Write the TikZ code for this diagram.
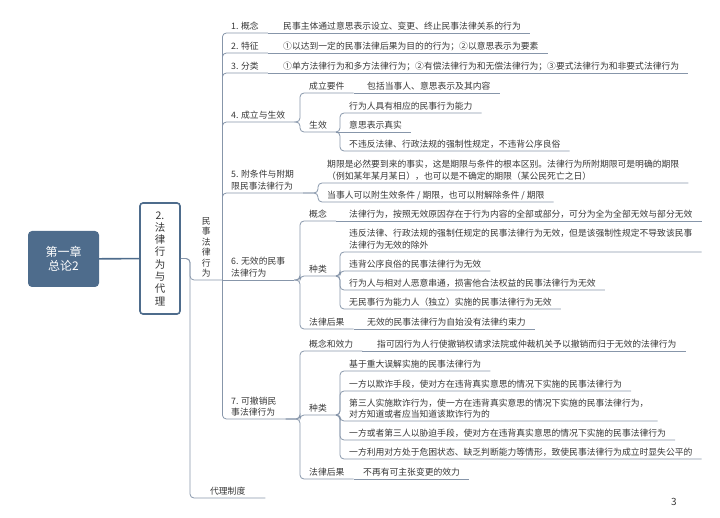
\documentclass[tikz,border=0pt]{standalone}
\usepackage{fontspec}
\setmainfont{Noto Sans CJK SC}
\usepackage{tikz}

\definecolor{rootblue}{RGB}{78,108,140}
\definecolor{linegray}{RGB}{135,150,170}
\definecolor{txtgray}{RGB}{55,55,55}

\tikzset{
  rootbox/.style={fill=rootblue,rounded corners=4pt,minimum width=71pt,minimum height=56pt,text=white,align=center,font=\fontsize{12}{14}\selectfont},
  chapbox/.style={draw=rootblue,line width=1.6pt,fill=white,rounded corners=3pt,minimum width=40pt,minimum height=111pt,text=txtgray,align=center,font=\fontsize{10.5}{12.3}\selectfont},
  topic/.style={anchor=south west,inner xsep=9pt,inner ysep=2pt,text depth=1.3pt,text=txtgray,align=left,font=\fontsize{8.8}{11.5}\selectfont},
  link/.style={draw=linegray,line width=0.8pt,rounded corners=4pt},
  rootlink/.style={draw=rootblue,line width=1.6pt}
}

\begin{document}
\begin{tikzpicture}[x=1pt,y=-1pt]
                \useasboundingbox (0,0) rectangle (720,518);
                % Chapter and section
                \node[rootbox](root) at (63.5,259){第一章\\总论2};
                \node[chapbox](law) at (160,258.5){2.\\法\\律\\行\\为\\与\\代\\理};
                \draw[rootlink](root)--(law);
                \node[topic,minimum width=32pt,inner xsep=0pt,align=center,font=\fontsize{8.8}{10.4}\selectfont](civil) at (190,280){民\\事\\法\\律\\行\\为};
                \node[topic,minimum width=75pt](agency) at (190,498){代理制度};
                \draw[link](law.east)-|(civil.south west)--(civil.south east);
                \draw[link](law.east)-|(agency.south west)--(agency.south east);
                % Items 1-7
                \node[topic](concept) at (222,33){1. 概念};
                \node[topic](feature) at (222,53){2. 特征};
                \node[topic](kinds) at (222,73){3. 分类};
                \node[topic](valid) at (222,122){4. 成立与生效};
                \node[topic](cond) at (222,193){5. 附条件与附期\\限民事法律行为};
                \node[topic](void) at (222,280){6. 无效的民事\\法律行为};
                \node[topic](revoc) at (222,419){7. 可撤销民\\事法律行为};
                \draw[link](civil.south east)|-(concept.south east);
                \draw[link](civil.south east)|-(feature.south east);
                \draw[link](civil.south east)|-(kinds.south east);
                \draw[link](civil.south east)|-(valid.south east);
                \draw[link](civil.south east)|-(cond.south east);
                \draw[link](civil.south east)--(void.south east);
                \draw[link](civil.south east)|-(revoc.south east);
                % 1-3
                \node[topic](conceptA) at (274,33){民事主体通过意思表示设立、变更、终止民事法律关系的行为};
                \node[topic](featureA) at (274,53){①以达到一定的民事法律后果为目的的行为；②以意思表示为要素};
                \node[topic](kindsA) at (274,73){①单方法律行为和多方法律行为；②有偿法律行为和无偿法律行为；③要式法律行为和非要式法律行为};
                \draw[link](concept.south east)--(conceptA.south east);
                \draw[link](feature.south east)--(featureA.south east);
                \draw[link](kinds.south east)--(kindsA.south east);
                % 4
                \node[topic](found) at (300,93){成立要件};
                \node[topic](foundA) at (358,93){包括当事人、意思表示及其内容};
                \node[topic](effect) at (300,132){生效};
                \node[topic](effectA) at (340,113){行为人具有相应的民事行为能力};
                \node[topic](effectB) at (340,132){意思表示真实};
                \node[topic](effectC) at (340,151){不违反法律、行政法规的强制性规定，不违背公序良俗};
                \draw[link](valid.south east)-|(found.south west)--(found.south east);
                \draw[link](valid.south east)-|(effect.south west)--(effect.south east);
                \draw[link](found.south east)--(foundA.south east);
                \draw[link](effect.south east)-|(effectA.south west)--(effectA.south east);
                \draw[link](effect.south east)--(effectB.south east);
                \draw[link](effect.south east)-|(effectC.south west)--(effectC.south east);
                % 5
                \node[topic](term) at (318,183){期限是必然要到来的事实，这是期限与条件的根本区别。法律行为所附期限可是明确的期限\\（例如某年某月某日），也可以是不确定的期限（某公民死亡之日）};
                \node[topic](termB) at (318,202){当事人可以附生效条件 / 期限，也可以附解除条件 / 期限};
                \draw[link](cond.south east)-|(term.south west)--(term.south east);
                \draw[link](cond.south east)-|(termB.south west)--(termB.south east);
                % 6
                \node[topic](voidC) at (300,221){概念};
                \node[topic](voidCA) at (340,221){法律行为，按照无效原因存在于行为内容的全部或部分，可分为全为全部无效与部分无效};
                \node[topic](voidK) at (300,276){种类};
                \node[topic](voidKA) at (340,252){违反法律、行政法规的强制任规定的民事法律行为无效，但是该强制性规定不导致该民事\\法律行为无效的除外};
                \node[topic](voidKB) at (340,271){违背公序良俗的民事法律行为无效};
                \node[topic](voidKC) at (340,290){行为人与相对人恶意串通，损害他合法权益的民事法律行为无效};
                \node[topic](voidKD) at (340,309){无民事行为能力人（独立）实施的民事法律行为无效};
                \node[topic](voidR) at (300,329){法律后果};
                \node[topic](voidRA) at (358,329){无效的民事法律行为自始没有法律约束力};
                \draw[link](void.south east)-|(voidC.south west)--(voidC.south east);
                \draw[link](void.south east)-|(voidK.south west)--(voidK.south east);
                \draw[link](void.south east)-|(voidR.south west)--(voidR.south east);
                \draw[link](voidC.south east)--(voidCA.south east);
                \draw[link](voidR.south east)--(voidRA.south east);
                \draw[link](voidK.south east)-|(voidKA.south west)--(voidKA.south east);
                \draw[link](voidK.south east)-|(voidKB.south west)--(voidKB.south east);
                \draw[link](voidK.south east)-|(voidKC.south west)--(voidKC.south east);
                \draw[link](voidK.south east)-|(voidKD.south west)--(voidKD.south east);
                % 7
                \node[topic](revC) at (300,351){概念和效力};
                \node[topic](revCA) at (368,351){指可因行为人行使撤销权请求法院或仲裁机关予以撤销而归于无效的法律行为};
                \node[topic](revK) at (300,415){种类};
                \node[topic](revKA) at (340,371){基于重大误解实施的民事法律行为};
                \node[topic](revKB) at (340,391){一方以欺诈手段，使对方在违背真实意思的情况下实施的民事法律行为};
                \node[topic](revKC) at (340,421){第三人实施欺诈行为，使一方在违背真实意思的情况下实施的民事法律行为，\\对方知道或者应当知道该欺诈行为的};
                \node[topic](revKD) at (340,440){一方或者第三人以胁迫手段，使对方在违背真实意思的情况下实施的民事法律行为};
                \node[topic](revKE) at (340,459){一方利用对方处于危困状态、缺乏判断能力等情形，致使民事法律行为成立时显失公平的};
                \node[topic](revR) at (300,479){法律后果};
                \node[topic](revRA) at (354,479){不再有可主张变更的效力};
                \draw[link](revoc.south east)-|(revC.south west)--(revC.south east);
                \draw[link](revoc.south east)-|(revK.south west)--(revK.south east);
                \draw[link](revoc.south east)-|(revR.south west)--(revR.south east);
                \draw[link](revC.south east)--(revCA.south east);
                \draw[link](revR.south east)--(revRA.south east);
                \draw[link](revK.south east)-|(revKA.south west)--(revKA.south east);
                \draw[link](revK.south east)-|(revKB.south west)--(revKB.south east);
                \draw[link](revK.south east)-|(revKC.south west)--(revKC.south east);
                \draw[link](revK.south east)-|(revKD.south west)--(revKD.south east);
                \draw[link](revK.south east)-|(revKE.south west)--(revKE.south east);
                % Page number
                \node[text=txtgray,font=\fontsize{10}{12}\selectfont](page) at (674,502){3};
\end{tikzpicture}
\end{document}
